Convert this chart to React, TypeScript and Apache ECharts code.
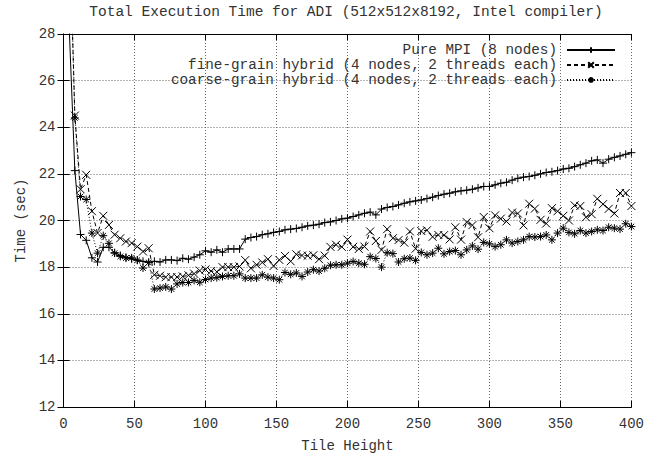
import React, { useEffect, useRef } from "react";
import * as echarts from "echarts";

const title = "Total Execution Time for ADI (512x512x8192, Intel compiler)";
const xAxisTitle = "Tile Height";
const yAxisTitle = "Time (sec)";
const seriesNames = [
  "Pure MPI (8 nodes)",
  "fine-grain hybrid (4 nodes, 2 threads each)",
  "coarse-grain hybrid (4 nodes, 2 threads each)",
];

const tileHeights = [
  4, 8, 12, 16, 20, 24, 28, 32, 36, 40, 44, 48, 52, 56, 60, 64, 68, 72, 76, 80,
  84, 88, 92, 96, 100, 104, 108, 112, 116, 120, 124, 128, 132, 136, 140, 144, 148, 152, 156, 160,
  164, 168, 172, 176, 180, 184, 188, 192, 196, 200, 204, 208, 212, 216, 220, 224, 228, 232, 236, 240,
  244, 248, 252, 256, 260, 264, 268, 272, 276, 280, 284, 288, 292, 296, 300, 304, 308, 312, 316, 320,
  324, 328, 332, 336, 340, 344, 348, 352, 356, 360, 364, 368, 372, 376, 380, 384, 388, 392, 396, 400,
];

const pureMPI = [
  28.3, 22.14, 19.4, 19.15, 18.4, 18.22, 18.85, 18.85, 18.62, 18.5, 18.42, 18.35, 18.3, 18.25, 18.2, 18.25, 18.22, 18.31, 18.31, 18.28,
  18.38, 18.34, 18.43, 18.53, 18.7, 18.64, 18.74, 18.64, 18.78, 18.78, 18.78, 19.2, 19.27, 19.31, 19.39, 19.43, 19.49, 19.53, 19.6, 19.63,
  19.66, 19.71, 19.77, 19.8, 19.84, 19.91, 19.94, 20.0, 20.07, 20.1, 20.17, 20.24, 20.31, 20.36, 20.24, 20.49, 20.56, 20.6, 20.67, 20.74,
  20.8, 20.84, 20.88, 20.94, 21.0, 21.07, 21.13, 21.17, 21.23, 21.27, 21.3, 21.34, 21.4, 21.46, 21.46, 21.53, 21.6, 21.64, 21.73, 21.81,
  21.86, 21.89, 21.94, 22.0, 22.06, 22.09, 22.14, 22.21, 22.24, 22.31, 22.39, 22.46, 22.56, 22.6, 22.46, 22.63, 22.71, 22.77, 22.84, 22.91,
];

const fineGrain = [
  33.0, 24.5, 21.34, 21.96, 20.4, 19.46, 20.2, 19.81, 19.39, 19.24, 19.1, 19.03, 18.88, 18.67, 18.81, 17.67, 17.63, 17.57, 17.57, 17.57,
  17.6, 17.65, 17.72, 17.85, 17.9, 17.83, 17.8, 18.0, 18.0, 18.0, 18.03, 18.3, 17.95, 18.1, 18.2, 18.34, 18.05, 18.31, 18.48, 18.25,
  18.55, 18.5, 18.49, 18.51, 18.34, 18.49, 18.87, 18.96, 18.87, 19.18, 18.87, 18.78, 18.88, 19.53, 19.12, 18.74, 19.63, 19.24, 19.16, 19.05,
  19.53, 18.79, 19.55, 19.58, 19.3, 19.38, 19.37, 19.19, 19.71, 19.18, 19.93, 19.8, 19.28, 20.15, 19.67, 20.22, 20.08, 19.96, 20.34, 20.3,
  19.79, 20.72, 20.51, 20.03, 19.87, 20.53, 20.4, 20.2, 20.0, 20.65, 20.62, 20.14, 20.27, 20.93, 20.7, 20.5, 20.3, 21.18, 21.18, 20.62,
];

const coarseGrain = [
  33.5, 24.4, 21.03, 20.9, 19.46, 18.6, 19.35, 19.02, 18.6, 18.46, 18.39, 18.4, 18.3, 17.96, 18.2, 17.06, 17.1, 17.15, 17.06, 17.28,
  17.34, 17.34, 17.43, 17.35, 17.47, 17.53, 17.55, 17.6, 17.63, 17.63, 17.71, 17.53, 17.53, 17.53, 17.67, 17.57, 17.53, 17.46, 17.77, 17.69,
  17.75, 17.6, 17.79, 17.89, 17.83, 17.95, 18.08, 18.1, 18.1, 18.17, 18.24, 18.17, 18.12, 18.45, 18.37, 18.0, 18.62, 18.58, 18.22, 18.36,
  18.39, 18.29, 18.63, 18.53, 18.6, 18.81, 18.57, 18.67, 18.71, 18.53, 18.74, 18.91, 18.77, 19.06, 19.0, 18.88, 18.96, 19.17, 19.03, 19.1,
  19.17, 19.31, 19.29, 19.31, 19.38, 19.17, 19.46, 19.67, 19.49, 19.43, 19.57, 19.46, 19.53, 19.6, 19.57, 19.71, 19.67, 19.63, 19.86, 19.74,
];

const xTicks = { min: 0, max: 400, interval: 50 };
const yTicks = { min: 12, max: 28, interval: 2 };

const FONT = "Liberation Mono";
const FS = 14;
const TXT = "#333";

const SYM_PLUS = "path://M0,5L10,5M5,0L5,10";
const SYM_X = "path://M0,0L10,10M0,10L10,0";
const SYM_STAR = "path://M0,5L10,5M5,0L5,10M1.5,1.5L8.5,8.5M1.5,8.5L8.5,1.5";

export default function App() {
  const ref = useRef<HTMLDivElement>(null);
  useEffect(() => {
    if (!ref.current) return;
    const chart = echarts.init(ref.current, undefined, { renderer: "svg" });
    const values = [pureMPI, fineGrain, coarseGrain];
    const symbols = [SYM_PLUS, SYM_X, SYM_STAR];
    const lineTypes: any[] = ["solid", [4, 3], [1, 2]];
    const series = values.map((vals, i) => ({
      name: seriesNames[i],
      type: "line",
      data: tileHeights.map((x, j) => [x, vals[j]]),
      symbol: symbols[i],
      symbolSize: 8,
      showAllSymbol: true,
      clip: true,
      lineStyle: { color: "#000", width: 1, type: lineTypes[i] },
      itemStyle: { color: "#000", borderColor: "#000", borderWidth: 1 },
      emphasis: { disabled: true },
    }));
    const legendTops = [38, 53, 68];
    const legend = seriesNames.map((n, i) => ({
      data: [n],
      right: 26,
      top: legendTops[i],
      align: "right",
      orient: "vertical",
      itemWidth: 48,
      itemHeight: 7,
      selectedMode: false,
      textStyle: { fontFamily: FONT, fontSize: 14.3, lineHeight: 14, color: TXT, padding: [0, 5, 0, 0] },
    }));
    const axisCommon = {
      axisLine: { show: true, lineStyle: { color: "#000", width: 1 } },
      axisTick: { show: true, inside: true, length: 6, lineStyle: { color: "#000" } },
    };
    chart.setOption({
      animation: false,
      backgroundColor: "#fff",
      graphic: [
        {
          type: "text",
          x: 346,
          y: 12,
          style: {
            text: title,
            fontFamily: FONT,
            fontSize: 14.5,
            fill: TXT,
            textAlign: "center",
            textVerticalAlign: "middle",
          },
        },
      ],
      legend,
      grid: { left: 63.5, right: 14, top: 34, bottom: 52, show: false },
      xAxis: [
        {
          type: "value",
          ...xTicks,
          position: "bottom",
          ...axisCommon,
          axisLabel: { margin: 10, fontFamily: FONT, fontSize: FS, color: TXT },
          splitLine: { show: true, lineStyle: { color: "#666", type: [1, 2], width: 1 } },
          name: xAxisTitle,
          nameLocation: "middle",
          nameGap: 32,
          nameTextStyle: { fontFamily: FONT, fontSize: FS, color: TXT },
        },
        {
          type: "value",
          ...xTicks,
          position: "top",
          ...axisCommon,
          axisLabel: { show: false },
          splitLine: { show: false },
        },
      ],
      yAxis: [
        {
          type: "value",
          ...yTicks,
          position: "left",
          ...axisCommon,
          axisLabel: { margin: 8, fontFamily: FONT, fontSize: FS, color: TXT },
          splitLine: { show: true, lineStyle: { color: "#666", type: [1, 2], width: 1 } },
          name: yAxisTitle,
          nameLocation: "middle",
          nameGap: 35,
          nameRotate: 90,
          nameTextStyle: { fontFamily: FONT, fontSize: FS, color: TXT },
        },
        {
          type: "value",
          ...yTicks,
          position: "right",
          ...axisCommon,
          axisLabel: { show: false },
          splitLine: { show: false },
        },
      ],
      series,
    });
    return () => chart.dispose();
  }, []);
  return (
    <div
      ref={ref}
      style={{ position: "fixed", left: 0, top: 0, width: 647, height: 459, background: "#fff" }}
    />
  );
}
